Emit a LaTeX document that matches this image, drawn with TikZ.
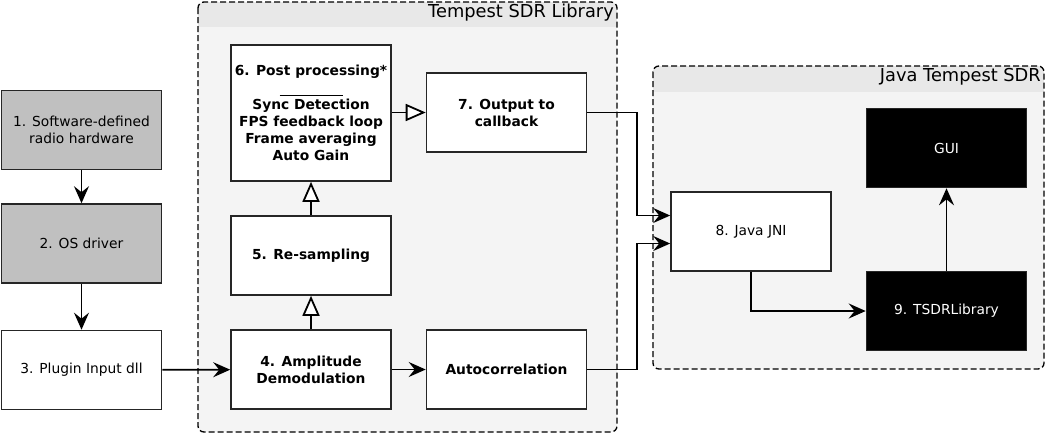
\documentclass[tikz,border=0pt]{standalone}
\usepackage{fontspec}
\setmainfont{DejaVu Sans}
\usetikzlibrary{arrows.meta}

\definecolor{hwgray}{HTML}{C0C0C0}
\definecolor{panelgray}{HTML}{F4F4F4}
\definecolor{headgray}{HTML}{E8E8E8}

\tikzset{
  block/.style={draw=black!85, line width=1.6pt, fill=white, minimum width=160pt,
    minimum height=79pt, align=center, inner sep=2pt,
    font=\fontsize{13.8}{17}\selectfont},
  hwblock/.style={block, fill=hwgray},
  darkblock/.style={block, fill=black, text=white},
  stageblock/.style={block, font=\fontsize{13.8}{17}\selectfont\bfseries},
  flow/.style={line width=1.8pt, -{Stealth[length=17pt,width=15pt,inset=6pt]}},
  stageflow/.style={line width=1.8pt, -{Triangle[open,length=20pt,width=17pt,fill=white]}},
  panel/.style={line width=1.3pt, dash pattern=on 6pt off 3pt, rounded corners=6pt},
  paneltitle/.style={anchor=north east, inner sep=1pt, font=\fontsize{17.8}{20}\selectfont}
}

\begin{document}
\begin{tikzpicture}[x=1pt, y=-1pt]
   \useasboundingbox (0,0) rectangle (1046,434);
   % Tempest SDR Library panel
   \fill[panelgray, rounded corners=6pt] (198,2) rectangle (617,432);
   \begin{scope}
     \clip[rounded corners=6pt] (198,2) rectangle (617,432);
     \fill[headgray] (198,2) rectangle (617,27);
   \end{scope}
   \draw[panel] (198,2) rectangle (617,432);
   \node[paneltitle] (libtitle) at (615,3) {Tempest SDR Library};
   % Java Tempest SDR panel
   \fill[panelgray, rounded corners=6pt] (653,66) rectangle (1044,369);
   \begin{scope}
     \clip[rounded corners=6pt] (653,66) rectangle (1044,369);
     \fill[headgray] (653,66) rectangle (1044,92);
   \end{scope}
   \draw[panel] (653,66) rectangle (1044,369);
   \node[paneltitle] (javatitle) at (1042,67) {Java Tempest SDR};

   % hardware side
   \node[hwblock] (hw) at (81.5,130) {1. Software-defined\\radio hardware};
   \node[hwblock] (drv) at (81.5,243.5) {2. OS driver};
   \node[block] (plugin) at (81.5,370) {3. Plugin Input dll};

   % library stages
   \node[stageblock] (demod) at (311,369.5) {4. Amplitude\\Demodulation};
   \node[stageblock] (resamp) at (311,255.5) {5. Re-sampling};
   \node[stageblock, minimum height=136pt] (post) at (311,113)
     {6. Post processing*\\\rule[-3pt]{63pt}{1pt}\\Sync Detection\\FPS feedback loop\\Frame averaging\\Auto Gain};
   \node[stageblock] (output) at (506.5,112.5) {7. Output to\\callback};
   \node[stageblock] (autocorr) at (506.5,369.5) {Autocorrelation};

   % java side
   \node[block] (jni) at (751,231.5) {8. Java JNI};
   \node[darkblock] (tsdr) at (946.5,311) {9. TSDRLibrary};
   \node[darkblock] (gui) at (946.5,148) {GUI};

   % connectors
   \draw[flow] (hw) -- (drv);
   \draw[flow] (drv) -- (plugin);
   \draw[flow] (plugin) -- (demod);
   \draw[stageflow] (demod) -- (resamp);
   \draw[stageflow] (resamp) -- (post);
   \draw[stageflow] (post.east |- output.west) -- (output.west);
   \draw[flow] (demod) -- (autocorr);
   \draw[flow] (output.east) -- ++(50,0) |- ([yshift=16pt]jni.west);
   \draw[flow] (autocorr.east) -- ++(50,0) |- ([yshift=-12pt]jni.west);
   \draw[flow] (jni.south) |- (tsdr.west);
   \draw[flow] (tsdr) -- (gui);
\end{tikzpicture}
\end{document}
